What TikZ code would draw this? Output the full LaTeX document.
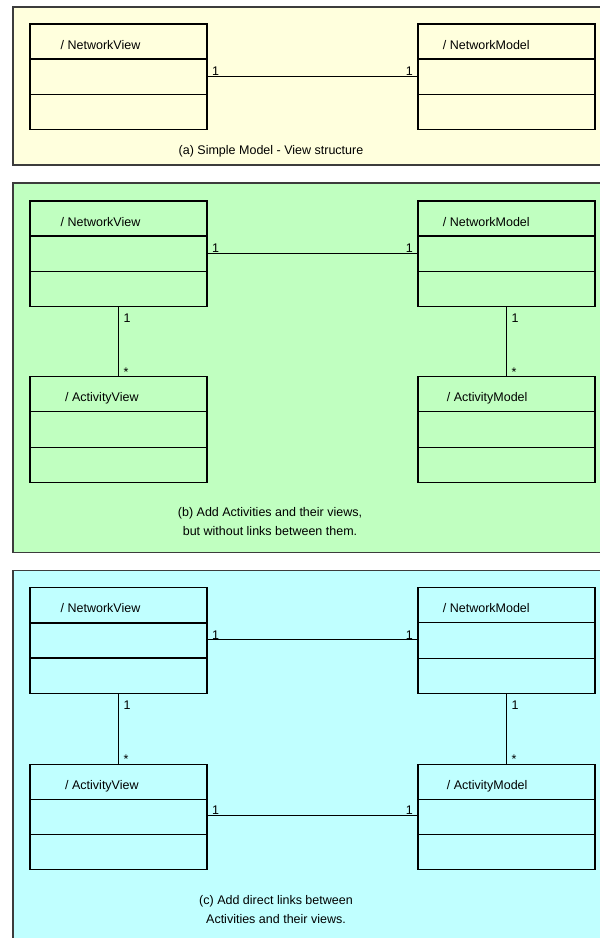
\documentclass[tikz,border=0pt]{standalone}
\usepackage{fontspec}
\setmainfont{Liberation Sans}
\usetikzlibrary{calc}
\definecolor{pa}{HTML}{FFFFDD}
\definecolor{pb}{HTML}{C0FFC0}
\definecolor{pc}{HTML}{C0FFFF}
\definecolor{edge}{HTML}{3C3C3C}
\tikzset{
  panel/.style={draw=edge, line width=1.6pt},
  cls/.style={draw=black, line width=1.1pt, minimum width=177pt, minimum height=105.5pt,
    inner sep=0pt, outer sep=0pt, anchor=north west},
  divider/.style={draw=black, line width=1.1pt},
  thickdiv/.style={draw=black, line width=1.9pt},
  txt/.style={inner sep=0pt, font=\fontsize{12.5}{15}\selectfont},
  ttl/.style={txt, anchor=base west},
  lblw/.style={txt, anchor=base west},
  lble/.style={txt, anchor=base east},
  captxt/.style={txt, anchor=base},
  assoc/.style={draw=black, line width=1pt},
}
% name, x, y, title offset, title, divider style
\newcommand\clsbox[6]{%
  \node[cls] (#1) at (#2,#3) {};
  \draw[#6] ($(#1.north west)+(0,35)$) -- ($(#1.north east)+(0,35)$);
  \draw[#6] ($(#1.north west)+(0,70.5)$) -- ($(#1.north east)+(0,70.5)$);
  \node[ttl] (#1t) at ($(#1.north west)+(#4,25)$) {#5};
}
\begin{document}
\begin{tikzpicture}[x=1pt,y=-1pt]
\useasboundingbox (0,0) rectangle (600,938);
\clip (0,0) rectangle (600,938);
\fill[white] (0,0) rectangle (600,938);

% ---------- panel (a)
\draw[panel, fill=pa] (13,7) rectangle (612,165);
\clsbox{nvA}{30}{24}{30.5}{/ NetworkView}{divider}
\clsbox{nmA}{418}{24}{24.7}{/ NetworkModel}{divider}
\coordinate (aL) at ($(nvA.north east)+(0,52)$);
\coordinate (aR) at ($(nmA.north west)+(0,52)$);
\draw[assoc] (aL) -- (aR);
\node[lblw] (aL1) at ($(aL)+(5,-0.5)$) {1};
\node[lble] (aR1) at ($(aR)+(-5,-0.5)$) {1};
\node[captxt] (capA) at (271,154) {(a) Simple Model - View structure};

% ---------- panel (b)
\draw[panel, fill=pb] (13,182.7) rectangle (612,552.5);
\clsbox{nvB}{30}{201}{30.5}{/ NetworkView}{thickdiv}
\clsbox{nmB}{418}{201}{24.7}{/ NetworkModel}{divider}
\clsbox{avB}{30}{376.7}{35}{/ ActivityView}{divider}
\clsbox{amB}{418}{376.7}{28.7}{/ ActivityModel}{divider}
\coordinate (bL) at ($(nvB.north east)+(0,52)$);
\coordinate (bR) at ($(nmB.north west)+(0,52)$);
\draw[assoc] (bL) -- (bR);
\node[lblw] (bL1) at ($(bL)+(5,-0.5)$) {1};
\node[lble] (bR1) at ($(bR)+(-5,-0.5)$) {1};
\draw[assoc] (nvB.south) -- (avB.north);
\draw[assoc] (nmB.south) -- (amB.north);
\node[lblw] (bv1) at ($(nvB.south)+(5,16.3)$) {1};
\node[lblw] (bvs) at ($(avB.north)+(5,-0.5)$) {*};
\node[lblw] (bm1) at ($(nmB.south)+(5,16.3)$) {1};
\node[lblw] (bms) at ($(amB.north)+(5,-0.5)$) {*};
\node[captxt] (capB1) at (270,516.7) {(b) Add Activities and their views,};
\node[captxt] (capB2) at (270,535.7) {but without links between them.};

% ---------- panel (c)
\draw[panel, fill=pc] (13,570.3) rectangle (612,950);
\clsbox{nvC}{30}{587.7}{30.5}{/ NetworkView}{thickdiv}
\clsbox{nmC}{418}{587.7}{24.7}{/ NetworkModel}{divider}
\clsbox{avC}{30}{764.3}{35}{/ ActivityView}{divider}
\clsbox{amC}{418}{764.3}{28.7}{/ ActivityModel}{divider}
\coordinate (cL) at ($(nvC.north east)+(0,52)$);
\coordinate (cR) at ($(nmC.north west)+(0,52)$);
\draw[assoc] (cL) -- (cR);
\node[lblw] (cL1) at ($(cL)+(5,-0.5)$) {1};
\node[lble] (cR1) at ($(cR)+(-5,-0.5)$) {1};
\coordinate (cL2) at ($(avC.north east)+(0,51)$);
\coordinate (cR2) at ($(amC.north west)+(0,51)$);
\draw[assoc] (cL2) -- (cR2);
\node[lblw] (cL21) at ($(cL2)+(5,-0.5)$) {1};
\node[lble] (cR21) at ($(cR2)+(-5,-0.5)$) {1};
\draw[assoc] (nvC.south) -- (avC.north);
\draw[assoc] (nmC.south) -- (amC.north);
\node[lblw] (cv1) at ($(nvC.south)+(5,16.3)$) {1};
\node[lblw] (cvs) at ($(avC.north)+(5,-0.5)$) {*};
\node[lblw] (cm1) at ($(nmC.south)+(5,16.3)$) {1};
\node[lblw] (cms) at ($(amC.north)+(5,-0.5)$) {*};
\node[captxt] (capC1) at (276,904.3) {(c) Add direct links between};
\node[captxt] (capC2) at (276,923.3) {Activities and their views.};
\end{tikzpicture}
\end{document}
